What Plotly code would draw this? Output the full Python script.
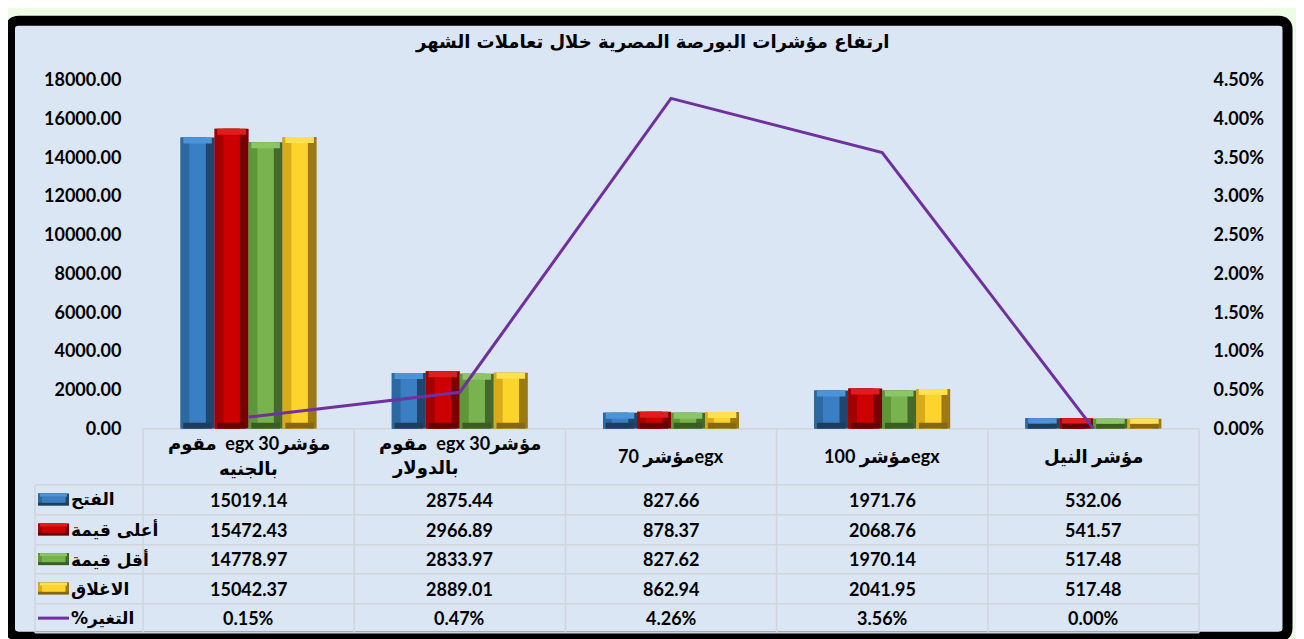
import plotly.graph_objects as go

# ---------------- data ----------------
categories = [
    "مقوم  egx 30مؤشر<br>بالجنيه",
    "مقوم  egx 30مؤشر<br>بالدولار",
    "70 مؤشرegx",
    "100 مؤشرegx",
    "مؤشر النيل",
]
series_names = ["الفتح", "أعلى قيمة", "أقل قيمة", "الاغلاق"]
open_vals = [15019.14, 2875.44, 827.66, 1971.76, 532.06]
high_vals = [15472.43, 2966.89, 878.37, 2068.76, 541.57]
low_vals = [14778.97, 2833.97, 827.62, 1970.14, 517.48]
close_vals = [15042.37, 2889.01, 862.94, 2041.95, 517.48]
change_name = "%التغير"
change_vals = [0.0015, 0.0047, 0.0426, 0.0356, 0.0000]
title_text = "ارتفاع مؤشرات البورصة المصرية خلال تعاملات الشهر"

bar_series = [open_vals, high_vals, low_vals, close_vals]

# ---------------- style ----------------
OX = 8                 # page offset of the figure (body margin)
VY0, VS = 19.2, 0.966  # observed vertical placement / scale of the captured page
FW, FH = 1288, 642
FONT = "Lato, 'Open Sans', 'DejaVu Sans', sans-serif"
AFONT = "'DejaVu Sans', sans-serif"
# (left bevel, face, right bevel, top bevel, bottom bevel)
bar_colors = [
    ("#2d69a1", "#3b7fc3", "#1f466f", "#4d93d8", "#1d3d5e"),
    ("#a30000", "#cc0000", "#780000", "#e01c1c", "#660000"),
    ("#5e9638", "#78b34f", "#436a2c", "#8cc566", "#3a5c25"),
    ("#d9aa1a", "#fdd42b", "#9b7a12", "#ffe04e", "#85680f"),
]
line_color = "#7030a0"
grid_color = "#d0d5da"


def px(x):
    return (x - OX) / FW


def fy(y):
    return (y - VY0) / VS


def py(y):
    return 1 - fy(y) / FH


plot_left, plot_right = 143, 1199
plot_top, plot_bottom = 79, 428
x_dom = [px(plot_left), px(plot_right)]
y_dom = [py(plot_bottom), py(plot_top)]
ymax = 18000
unit_per_px = ymax / (plot_bottom - plot_top)

fig = go.Figure()

idx = list(range(len(categories)))
bw = 0.161
bevel = 0.26
bev_h = 6 * unit_per_px
for s, vals in enumerate(bar_series):
    off = (s - 2) * bw
    left_c, face_c, right_c, top_c, bot_c = bar_colors[s]
    common = dict(x=idx, showlegend=False, hoverinfo="skip")
    fig.add_trace(go.Bar(y=vals, offset=off, width=bw,
                         marker=dict(color=right_c, line=dict(width=0)), **common))
    fig.add_trace(go.Bar(y=vals, offset=off, width=bw * (1 - bevel),
                         marker=dict(color=left_c, line=dict(width=0)), **common))
    fig.add_trace(go.Bar(y=vals, offset=off + bw * bevel, width=bw * (1 - 2 * bevel),
                         marker=dict(color=face_c, line=dict(width=0)), **common))
    hb = [min(bev_h, v / 2) for v in vals]
    fig.add_trace(go.Bar(y=hb, offset=off + bw * 0.08, width=bw * 0.84,
                         marker=dict(color=bot_c, line=dict(width=0)), **common))
    fig.add_trace(go.Bar(y=hb, base=[v - h for v, h in zip(vals, hb)],
                         offset=off + bw * 0.08, width=bw * 0.84,
                         marker=dict(color=top_c, line=dict(width=0)), **common))

fig.add_trace(go.Scatter(x=idx, y=change_vals, yaxis="y2", mode="lines",
                         line=dict(color=line_color, width=3),
                         name=change_name, showlegend=False))

shapes = []


def rounded_rect(x0, y0, x1, y1, r):
    X0, X1 = px(x0), px(x1)
    Y0, Y1 = py(y0), py(y1)
    rx, ry = r / FW, r / FH
    return (f"M {X0+rx},{Y0} L {X1-rx},{Y0} Q {X1},{Y0} {X1},{Y0-ry} "
            f"L {X1},{Y1+ry} Q {X1},{Y1} {X1-rx},{Y1} L {X0+rx},{Y1} "
            f"Q {X0},{Y1} {X0},{Y1+ry} L {X0},{Y0-ry} Q {X0},{Y0} {X0+rx},{Y0} Z")


shapes.append(dict(type="path", xref="paper", yref="paper", layer="below",
                   path=rounded_rect(10, 20, 1287.5, 636, 9),
                   fillcolor="#dae6f4", line=dict(color="#000000", width=10)))

# data table grid
col_w = (plot_right - plot_left) / len(categories)
col_edges = [plot_left + i * col_w for i in range(len(categories) + 1)]
row_edges = [428, 484, 514, 544, 573, 603, 632]
leg_left = 35
gl = dict(color=grid_color, width=1.5)
shapes.append(dict(type="line", xref="paper", yref="paper", layer="below",
                   x0=px(plot_left), x1=px(plot_right), y0=py(row_edges[0]), y1=py(row_edges[0]),
                   line=gl))
for r in row_edges[1:]:
    shapes.append(dict(type="line", xref="paper", yref="paper", layer="below",
                       x0=px(leg_left), x1=px(plot_right), y0=py(r), y1=py(r), line=gl))
for c in col_edges:
    shapes.append(dict(type="line", xref="paper", yref="paper", layer="below",
                       x0=px(c), x1=px(c), y0=py(row_edges[0]), y1=py(row_edges[-1]), line=gl))
shapes.append(dict(type="line", xref="paper", yref="paper", layer="below",
                   x0=px(leg_left), x1=px(leg_left), y0=py(row_edges[1]), y1=py(row_edges[-1]),
                   line=gl))

annotations = []
annotations.append(dict(text=title_text, xref="paper", yref="paper", x=px(652), y=py(41),
                        showarrow=False, xanchor="center", yanchor="middle",
                        font=dict(family=AFONT, size=18, color="#000", weight="bold")))

# header (categories)
line2_shift = [0, -34, 0, 0, 0]
hfont = dict(family=FONT, size=18, color="#000", weight="bold")
for i, cat in enumerate(categories):
    parts = cat.split("<br>")
    if len(parts) == 1:
        annotations.append(dict(text=parts[0], xref="x", yref="paper", x=i, y=py(456),
                                showarrow=False, xanchor="center", yanchor="middle", font=hfont))
    else:
        annotations.append(dict(text=parts[0], xref="x", yref="paper", x=i, y=py(443),
                                showarrow=False, xanchor="center", yanchor="middle", font=hfont))
        annotations.append(dict(text=parts[1], xref="x", yref="paper", x=i, y=py(467),
                                xshift=line2_shift[i],
                                showarrow=False, xanchor="center", yanchor="middle", font=hfont))

# rows
row_vals = bar_series + [change_vals]
row_names = series_names + [change_name]
nfont = dict(family=FONT, size=18, color="#000", weight="bold")
for r, (name, vals) in enumerate(zip(row_names, row_vals)):
    yc = (row_edges[r + 1] + row_edges[r + 2]) / 2
    for i, v in enumerate(vals):
        txt = f"{v*100:.2f}%" if r == 4 else f"{v:.2f}"
        annotations.append(dict(text=txt, xref="x", yref="paper", x=i, y=py(yc),
                                showarrow=False, xanchor="center", yanchor="middle", font=nfont))
    annotations.append(dict(text=name, xref="paper", yref="paper", x=px(69), y=py(yc),
                            showarrow=False, xanchor="left", yanchor="middle",
                            font=dict(family=AFONT, size=17, color="#000", weight="bold")))
    if r < 4:
        lc, fc, rc, tc, bc = bar_colors[r]
        shapes.append(dict(type="rect", xref="paper", yref="paper", layer="above",
                           x0=px(38), x1=px(69), y0=py(yc + 6), y1=py(yc - 6),
                           fillcolor=bc, line=dict(width=0)))
        shapes.append(dict(type="rect", xref="paper", yref="paper", layer="above",
                           x0=px(38), x1=px(69), y0=py(yc + 3), y1=py(yc - 6),
                           fillcolor=rc, line=dict(width=0)))
        shapes.append(dict(type="rect", xref="paper", yref="paper", layer="above",
                           x0=px(38), x1=px(66), y0=py(yc + 3), y1=py(yc - 6),
                           fillcolor=lc, line=dict(width=0)))
        shapes.append(dict(type="rect", xref="paper", yref="paper", layer="above",
                           x0=px(42), x1=px(65), y0=py(yc + 3), y1=py(yc - 3),
                           fillcolor=fc, line=dict(width=0)))
        shapes.append(dict(type="rect", xref="paper", yref="paper", layer="above",
                           x0=px(40), x1=px(67), y0=py(yc - 3), y1=py(yc - 6),
                           fillcolor=tc, line=dict(width=0)))
    else:
        shapes.append(dict(type="line", xref="paper", yref="paper", layer="above",
                           x0=px(38), x1=px(69), y0=py(yc), y1=py(yc),
                           line=dict(color=line_color, width=3)))

tickfont = dict(family=FONT, size=18, color="#000", weight="bold")
fig.update_layout(
    width=FW, height=FH,
    margin=dict(l=0, r=0, t=0, b=0),
    paper_bgcolor="#eefbe5",
    plot_bgcolor="rgba(0,0,0,0)",
    barmode="overlay",
    showlegend=False,
    shapes=shapes,
    annotations=annotations,
    xaxis=dict(domain=x_dom, range=[-0.5, len(categories) - 0.5], showticklabels=False,
               showgrid=False, zeroline=False, showline=False, ticks=""),
    yaxis=dict(domain=y_dom, range=[0, ymax], dtick=2000, tickformat=".2f",
               showgrid=False, zeroline=False, showline=False,
               ticks="outside", ticklen=17, tickcolor="rgba(0,0,0,0)", tickfont=tickfont),
    yaxis2=dict(overlaying="y", side="right", range=[0, 0.045], dtick=0.005, tickformat=".2%",
                showgrid=False, zeroline=False, showline=False,
                ticks="outside", ticklen=10, tickcolor="rgba(0,0,0,0)", tickfont=tickfont),
)

fig.write_html("out.html")
